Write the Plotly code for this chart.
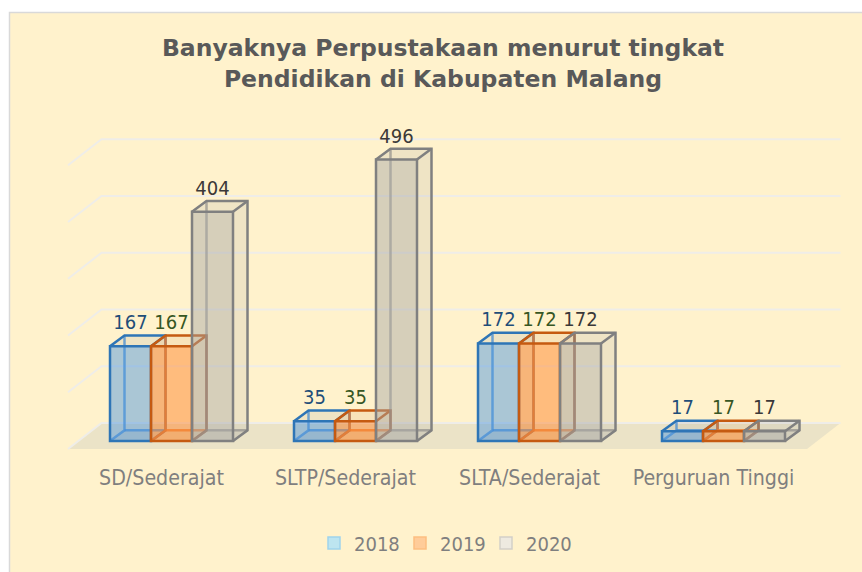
import plotly.graph_objects as go

categories = ["SD/Sederajat", "SLTP/Sederajat", "SLTA/Sederajat", "Perguruan Tinggi"]
series_names = ["2018", "2019", "2020"]
values_2018 = [167, 35, 172, 17]
values_2019 = [167, 35, 172, 17]
values_2020 = [404, 496, 172, 17]
grid_values = [0, 100, 200, 300, 400, 500]
title_text = "Banyaknya Perpustakaan menurut tingkat<br>Pendidikan di Kabupaten Malang"

series_values = [values_2018, values_2019, values_2020]
edge_colors = ["#2E75B6", "#C55A11", "#808080"]
inner_edge = ["rgba(70,140,210,0.75)", "rgba(235,125,50,0.8)", "rgba(130,130,130,0.6)"]
front_fill = ["rgba(70,145,225,0.46)", "rgba(255,130,40,0.48)", "rgba(165,165,165,0.46)"]
side_fill = ["rgba(120,130,140,0.12)", "rgba(200,120,60,0.12)", "rgba(165,165,165,0.18)"]
legend_fill = ["#BDE5F0", "#FFCC99", "#EEEAE0"]
legend_line = ["#9FD3EC", "#FDBE80", "#D3D0C8"]
label_colors = ["#1F4E79", "#375623", "#3B3838"]

FONT = "DejaVu Sans Condensed, DejaVu Sans, sans-serif"
W, H = 862, 572
PX_X = 184.0          # pixels per category
PX_Y = 0.5675         # pixels per value unit
X0_PX = 171.5         # pixel of category 0
Y0_PX = 441.0         # pixel of value 0 at the front of the bars
BAR_W = 41.0 / PX_X
DX = 14.5 / PX_X      # depth of each bar
DY = 10.7 / PX_Y
FLOOR_L = (68 - X0_PX) / PX_X
FLOOR_R = (807 - X0_PX) / PX_X
WALL_DX = 33.5 / PX_X
WALL_B = (Y0_PX - 449) / PX_Y   # floor front edge
WALL_T = (Y0_PX - 423) / PX_Y   # floor back edge
LABEL_UP = 22.0 / PX_Y
LABEL_SHIFT = -10.0 / PX_X

x_range = [-X0_PX / PX_X, (W - X0_PX) / PX_X]
y_range = [(Y0_PX - H) / PX_Y, Y0_PX / PX_Y]

fig = go.Figure()

# floor and walls' grid on the main axes
fig.add_trace(go.Scatter(
    x=[FLOOR_L, FLOOR_R, FLOOR_R + WALL_DX, FLOOR_L + WALL_DX, FLOOR_L],
    y=[WALL_B, WALL_B, WALL_T, WALL_T, WALL_B],
    mode="lines", fill="toself", fillcolor="#EBE3C7", line=dict(width=0),
    showlegend=False, hoverinfo="skip"))
for v in grid_values:
    fig.add_trace(go.Scatter(
        x=[FLOOR_L, FLOOR_L + WALL_DX, FLOOR_R + WALL_DX],
        y=[WALL_B + v, WALL_T + v, WALL_T + v],
        mode="lines", line=dict(color="#EFEDE8", width=2),
        showlegend=False, hoverinfo="skip"))

# legend entries
for k, name in enumerate(series_names):
    fig.add_trace(go.Bar(
        x=[None], y=[None], name=name,
        marker=dict(color=legend_fill[k], line=dict(color=legend_line[k], width=1.5))))


def face(xs, ys, fill, xa, ya):
    fig.add_trace(go.Scatter(
        x=xs + xs[:1], y=ys + ys[:1], mode="lines", fill="toself",
        fillcolor=fill, line=dict(width=0), xaxis=xa, yaxis=ya,
        showlegend=False, hoverinfo="skip"))


def edge(xs, ys, color, xa, ya):
    fig.add_trace(go.Scatter(
        x=xs, y=ys, mode="lines", line=dict(color=color, width=2.5),
        xaxis=xa, yaxis=ya, showlegend=False, hoverinfo="skip"))


axis_no = 2
for k, values in enumerate(series_values):
    xa_back, ya_back = f"x{axis_no}", f"y{axis_no}"
    xa_front, ya_front = f"x{axis_no + 1}", f"y{axis_no + 1}"
    for i, v in enumerate(values):
        c = i + (k - 1) * BAR_W
        l, r = c - BAR_W / 2, c + BAR_W / 2
        # visible side faces and hidden edges
        face([l, r, r + DX, l + DX], [0, 0, DY, DY], side_fill[k], xa_back, ya_back)
        face([r, r + DX, r + DX, r], [0, DY, v + DY, v], side_fill[k], xa_back, ya_back)
        face([l, r, r + DX, l + DX], [v, v, v + DY, v + DY], side_fill[k], xa_back, ya_back)
        edge([l, l + DX, l + DX, l + DX], [0, DY, v + DY, DY], inner_edge[k], xa_back, ya_back)
        edge([l + DX, r + DX], [DY, DY], inner_edge[k], xa_back, ya_back)
    # front faces as true bars
    fig.add_trace(go.Bar(
        x=list(range(len(categories))), y=values, width=BAR_W, offset=(k - 1.5) * BAR_W,
        marker=dict(color=front_fill[k], line=dict(color=edge_colors[k], width=2.5)),
        xaxis=xa_front, yaxis=ya_front, showlegend=False, name=series_names[k],
        hovertemplate="%{y}<extra>" + series_names[k] + "</extra>"))
    for i, v in enumerate(values):
        c = i + (k - 1) * BAR_W
        l, r = c - BAR_W / 2, c + BAR_W / 2
        edge([l, l + DX, r + DX, r + DX, r], [v, v + DY, v + DY, DY, 0], edge_colors[k], xa_front, ya_front)
        edge([r, r + DX], [v, v + DY], edge_colors[k], xa_front, ya_front)
    # data labels
    fig.add_trace(go.Scatter(
        x=[i + (k - 1) * BAR_W for i in range(len(values))],
        y=[v + LABEL_UP for v in values],
        text=[str(v) for v in values], mode="text", textposition="middle center",
        textfont=dict(family=FONT, size=20, color=label_colors[k]),
        xaxis=xa_front, yaxis=ya_front, showlegend=False, hoverinfo="skip"))
    axis_no += 2

fig.update_layout(
    width=W, height=H, autosize=False,
    margin=dict(l=0, r=0, t=0, b=0, pad=0),
    paper_bgcolor="white", plot_bgcolor="rgba(0,0,0,0)",
    barmode="overlay",
    title=dict(text=title_text, x=443 / W, xanchor="center", y=1 - 56 / H, yanchor="middle",
               font=dict(family="DejaVu Sans, sans-serif", size=23.5, weight="bold", color="#595959")),
    legend=dict(orientation="h", x=443 / W, xanchor="center", y=1 - 543 / H, yanchor="middle",
                entrywidth=41, entrywidthmode="pixels",
                font=dict(family=FONT, size=20, color="#7F7F7F"),
                bgcolor="rgba(0,0,0,0)", itemclick=False, itemdoubleclick=False),
    shapes=[dict(type="rect", xref="paper", yref="paper", layer="below",
                 x0=9.5 / W, x1=1.01, y0=-0.01, y1=1 - 12.5 / H,
                 fillcolor="#FFF2CC", line=dict(color="#D9D9D9", width=1.5))],
    xaxis=dict(range=x_range, domain=[0, 1], anchor="free", position=1 - 463 / H,
               tickmode="array", tickvals=[i + LABEL_SHIFT for i in range(len(categories))],
               ticktext=categories, ticks="", showline=False, showgrid=False, zeroline=False,
               tickfont=dict(family=FONT, size=21.2, color="#7F7F7F")),
    yaxis=dict(range=y_range, domain=[0, 1], visible=False, showgrid=False, zeroline=False),
)
for n in range(2, axis_no):
    fig.update_layout({
        f"xaxis{n}": dict(range=x_range, overlaying="x", visible=False, domain=[0, 1]),
        f"yaxis{n}": dict(range=y_range, overlaying="y", visible=False, domain=[0, 1]),
    })

fig.write_html("out.html", config=dict(displayModeBar=False),
               post_script="document.body.style.margin='0';")
